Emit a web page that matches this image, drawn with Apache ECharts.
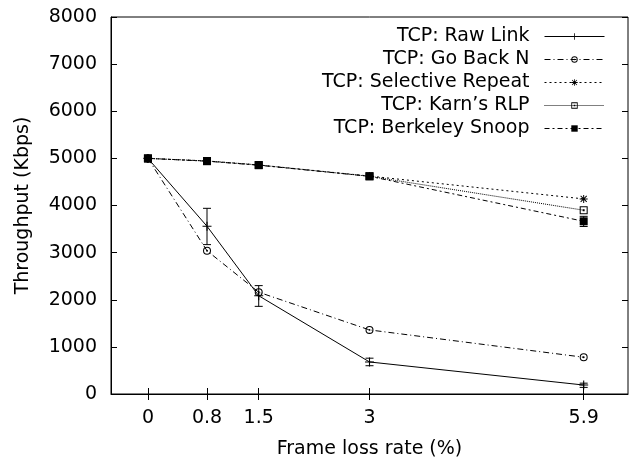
<!DOCTYPE html>
<html>
<head>
<meta charset="utf-8" />
<title>TCP throughput</title>
<style>
  html, body { margin: 0; padding: 0; background: #fff; }
  #main { width: 629px; height: 464px; }
</style>
</head>
<body>
<div id="main"></div>
<script src="https://cdn.jsdelivr.net/npm/echarts@6/dist/echarts.min.js"></script>
<script>
  "use strict";

  var lossRates = [0, 0.8, 1.5, 3, 5.9];
  var xTickLabels = [0, 0.8, 1.5, 3, 5.9];

  var rawLink = [5000, 3560, 2085, 680, 190];
  var goBackN = [5000, 3040, 2160, 1360, 780];
  var selectiveRepeat = [5000, 4945, 4860, 4625, 4140];
  var karnsRlp = [5000, 4945, 4860, 4620, 3900];
  var berkeleySnoop = [5000, 4940, 4855, 4620, 3665];

  // error bars: [x, low, high]
  var rawLinkErr = [[0.8, 3170, 3940], [1.5, 1860, 2300], [3, 600, 760], [5.9, 140, 230]];
  var snoopErr = [[5.9, 3555, 3770]];

  function pairs(ys) {
    return ys.map(function (y, i) { return [lossRates[i], y]; });
  }

  var symPlus = 'path://M4.4,0h1.2v10h-1.2z M0,4.4h10v1.2h-10z';
  var symCircleDot = 'path://M5,0 A5,5 0 1,1 5,10 A5,5 0 1,1 5,0 Z M5,1.3 A3.7,3.7 0 1,0 5,8.7 A3.7,3.7 0 1,0 5,1.3 Z M5,3.8 A1.2,1.2 0 1,1 5,6.2 A1.2,1.2 0 1,1 5,3.8 Z';
  var symStar = 'path://M4.4,0h1.2v10h-1.2z M0,4.4h10v1.2h-10z M0.8,1.6l0.8,-0.8l7.6,7.6l-0.8,0.8z M8.4,0.8l0.8,0.8l-7.6,7.6l-0.8,-0.8z';
  var symSquareDot = 'path://M0,0h10v10h-10z M1.3,1.3v7.4h7.4v-7.4z M3.8,3.8h2.4v2.4h-2.4z';

  var font = 'DejaVu Sans, Liberation Sans, sans-serif';
  var fs = 19;

  function lineSeries(name, ys, symbol, size, dash) {
    return {
      name: name,
      type: 'line',
      data: pairs(ys),
      symbol: symbol,
      symbolSize: size,
      showSymbol: true,
      animation: false,
      lineStyle: { color: '#000', width: 1, type: dash },
      itemStyle: { color: '#000', borderWidth: 0 }
    };
  }

  function errSeries(data) {
    return {
      type: 'custom',
      data: data,
      animation: false,
      silent: true,
      renderItem: function (params, api) {
        var x = api.value(0);
        var lo = api.coord([x, api.value(1)]);
        var hi = api.coord([x, api.value(2)]);
        var w = 4;
        var st = { stroke: '#000', lineWidth: 1 };
        return {
          type: 'group',
          children: [
            { type: 'line', shape: { x1: lo[0], y1: lo[1], x2: hi[0], y2: hi[1] }, style: st },
            { type: 'line', shape: { x1: lo[0] - w, y1: lo[1], x2: lo[0] + w, y2: lo[1] }, style: st },
            { type: 'line', shape: { x1: hi[0] - w, y1: hi[1], x2: hi[0] + w, y2: hi[1] }, style: st }
          ]
        };
      },
      encode: { x: 0, y: [1, 2] }
    };
  }

  var chart = echarts.init(document.getElementById('main'), null, { renderer: 'canvas' });

  chart.setOption({
    backgroundColor: '#fff',
    textStyle: { fontFamily: font },
    grid: { left: 111, right: 1, top: 17, bottom: 70, show: true, borderColor: '#000', borderWidth: 1 },
    legend: {
      orient: 'vertical',
      right: 24,
      top: 27,
      padding: 0,
      align: 'right',
      itemWidth: 60,
      itemHeight: 8,
      itemGap: 4,
      lineStyle: { width: 1 },
      textStyle: { fontFamily: font, fontSize: fs, color: '#000', padding: [0, 10, 0, 0] },
      data: ['TCP: Raw Link', 'TCP: Go Back N', 'TCP: Selective Repeat', "TCP: Karn\u2019s RLP", 'TCP: Berkeley Snoop']
    },
    xAxis: [{
      type: 'value',
      min: -0.5,
      max: 6.5,
      name: 'Frame loss rate (%)',
      nameLocation: 'middle',
      nameGap: 46,
      nameTextStyle: { fontFamily: font, fontSize: fs, color: '#000' },
      axisLine: { onZero: false, lineStyle: { color: '#000' } },
      axisTick: { inside: true, length: 6, customValues: lossRates, lineStyle: { color: '#000' } },
      axisLabel: { customValues: xTickLabels, fontSize: fs, color: '#000', margin: 15, fontFamily: font },
      splitLine: { show: false }
    }, {
      type: 'value',
      position: 'top',
      min: -0.5,
      max: 6.5,
      axisLine: { show: false },
      axisTick: { inside: true, length: 6, customValues: lossRates, lineStyle: { color: '#000' } },
      axisLabel: { show: false },
      splitLine: { show: false }
    }],
    yAxis: [{
      type: 'value',
      min: 0,
      max: 8000,
      interval: 1000,
      name: 'Throughput (Kbps)',
      nameLocation: 'middle',
      nameGap: 78,
      nameTextStyle: { fontFamily: font, fontSize: fs, color: '#000' },
      axisLine: { show: true, onZero: false, lineStyle: { color: '#000' } },
      axisTick: { inside: true, length: 6, lineStyle: { color: '#000' } },
      axisLabel: {
        fontSize: fs, color: '#000', margin: 14, fontFamily: font,
        formatter: function (v) { return String(v); }
      },
      splitLine: { show: false }
    }, {
      type: 'value',
      position: 'right',
      min: 0,
      max: 8000,
      interval: 1000,
      axisLine: { show: false, onZero: false },
      axisTick: { show: true, inside: true, length: 6, lineStyle: { color: '#000' } },
      axisLabel: { show: false },
      splitLine: { show: false }
    }],
    series: [
      lineSeries('TCP: Raw Link', rawLink, symPlus, 9, 'solid'),
      lineSeries('TCP: Go Back N', goBackN, symCircleDot, 8, [6, 3, 1, 3]),
      lineSeries('TCP: Selective Repeat', selectiveRepeat, symStar, 8, [2, 3]),
      lineSeries("TCP: Karn\u2019s RLP", karnsRlp, symSquareDot, 8, [1, 1]),
      lineSeries('TCP: Berkeley Snoop', berkeleySnoop, 'rect', 8, [5, 3, 2, 3]),
      errSeries(rawLinkErr),
      errSeries(snoopErr)
    ]
  });
</script>
</body>
</html>
